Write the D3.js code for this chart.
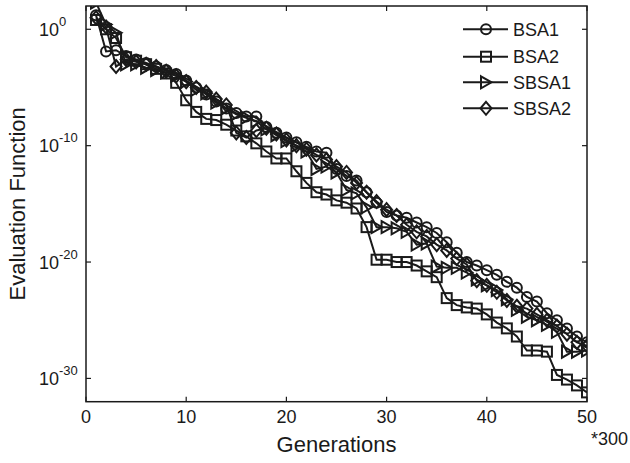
<html>
<head>
<script src="https://d3js.org/d3.v7.min.js"></script>
<style>
  body { margin: 0; background: #fff; }
  text { font-family: "Liberation Sans", Arial, sans-serif; fill: #1a1a1a; }
</style>
</head>
<body>
</body>
<script>
    // generations (x 300)
    let generations = d3.range(1, 51);
    // log10 of the evaluation function
    let bsa1 = [1.2, -1.9, -1.8, -2.3, -2.6, -2.9, -3.2, -3.5, -3.85, -4.4,
                -5.0, -5.6, -6.2, -6.8, -7.2, -7.5, -7.5, -8.4, -8.9, -9.3,
                -9.7, -10.1, -10.5, -10.6, -12.0, -12.6, -13.0, -14.0, -14.9, -15.7,
                -16.0, -16.2, -16.6, -17.0, -17.5, -18.3, -19.2, -20.0, -20.3, -20.7,
                -21.1, -21.7, -22.2, -23.0, -23.4, -24.4, -25.0, -25.7, -26.4, -26.9];
    let bsa2 = [0.8, 0.0, -0.75, -2.4, -2.7, -3.0, -3.4, -3.8, -4.6, -6.1,
                -7.1, -7.7, -7.8, -8.2, -8.7, -9.2, -9.8, -10.5, -11.1, -11.1,
                -12.2, -13.2, -14.0, -14.2, -14.7, -14.9, -15.4, -17.0, -19.8, -19.8,
                -20.0, -20.0, -20.3, -20.8, -21.3, -23.1, -23.7, -23.9, -24.0, -24.5,
                -25.2, -25.7, -26.4, -27.6, -27.6, -27.7, -29.7, -30.1, -30.6, -31.2];
    let sbsa1 = [2.3, 0.4, -0.3, -3.0, -3.0, -3.3, -3.5, -3.7, -4.0, -4.5,
                 -5.2, -5.5, -6.3, -6.8, -7.3, -7.6, -7.9, -8.6, -9.1, -9.6,
                 -10.0, -10.5, -12.0, -11.8, -12.3, -13.8, -14.1, -15.3, -17.0, -17.0,
                 -17.1, -17.4, -18.5, -18.4, -20.4, -20.5, -20.5, -20.9, -21.5, -22.0,
                 -22.4, -23.2, -24.1, -24.7, -25.0, -25.4, -26.0, -27.7, -27.7, -27.6];
    let sbsa2 = [1.0, 0.2, -3.2, -2.6, -2.8, -3.0, -3.2, -3.6, -4.0, -4.5,
                 -5.0, -5.4, -6.0, -6.5, -8.9, -9.3, -8.7, -8.5, -9.0, -9.5,
                 -10.0, -10.3, -10.8, -11.2, -11.8, -12.3, -13.2, -14.0, -14.8, -15.5,
                 -16.0, -16.8, -17.4, -17.8, -18.5, -19.0, -19.7, -20.2, -21.6, -22.0,
                 -22.6, -23.3, -23.8, -24.0, -24.5, -25.0, -25.5, -26.2, -26.9, -27.2];
    let seriesNames = ["BSA1", "BSA2", "SBSA1", "SBSA2"];
    let xTicks = [0, 10, 20, 30, 40, 50];
    let yTickExps = [0, -10, -20, -30];

    let series = [bsa1, bsa2, sbsa1, sbsa2];
    let markers = ["circle", "square", "triangle", "diamond"];

    let width = 630, height = 463;
    let pLeft = 86, pRight = 587, pTop = 6, pBottom = 401.7;
    let ink = "#1a1a1a";

    let svg = d3.select("body").append("svg")
        .attr("width", width)
        .attr("height", height);

    let x = d3.scaleLinear().domain([0, 50]).range([pLeft, pRight]);
    let y = d3.scaleLog().domain([1e-32, 1e2]).range([pBottom, pTop]);

    svg.append("clipPath").attr("id", "plotclip")
        .append("rect")
        .attr("x", pLeft).attr("y", pTop)
        .attr("width", pRight - pLeft).attr("height", pBottom - pTop);

    // axes box and inward ticks
    svg.append("rect")
        .attr("x", pLeft).attr("y", pTop)
        .attr("width", pRight - pLeft).attr("height", pBottom - pTop)
        .attr("fill", "none").attr("stroke", ink).attr("stroke-width", 1.5);

    let tickLen = 5;
    xTicks.forEach(t => {
        svg.append("line").attr("x1", x(t)).attr("x2", x(t))
            .attr("y1", pBottom).attr("y2", pBottom - tickLen)
            .attr("stroke", ink).attr("stroke-width", 1.2);
        svg.append("line").attr("x1", x(t)).attr("x2", x(t))
            .attr("y1", pTop).attr("y2", pTop + tickLen)
            .attr("stroke", ink).attr("stroke-width", 1.2);
        svg.append("text")
            .attr("x", x(t)).attr("y", 423)
            .attr("text-anchor", "middle")
            .attr("font-size", 18)
            .text(t);
    });

    yTickExps.forEach(e => {
        let yy = y(Math.pow(10, e));
        svg.append("line").attr("x1", pLeft).attr("x2", pLeft + tickLen)
            .attr("y1", yy).attr("y2", yy)
            .attr("stroke", ink).attr("stroke-width", 1.2);
        svg.append("line").attr("x1", pRight).attr("x2", pRight - tickLen)
            .attr("y1", yy).attr("y2", yy)
            .attr("stroke", ink).attr("stroke-width", 1.2);
        let lab = svg.append("text")
            .attr("x", 39).attr("y", yy + 6.5)
            .attr("font-size", 18);
        lab.append("tspan").text("10");
        lab.append("tspan").attr("dy", -10).attr("font-size", 13).text(e);
    });

    // axis titles
    svg.append("text")
        .attr("x", (pLeft + pRight) / 2).attr("y", 452)
        .attr("text-anchor", "middle")
        .attr("font-size", 22)
        .text("Generations");
    svg.append("text")
        .attr("x", 628).attr("y", 445)
        .attr("text-anchor", "end")
        .attr("font-size", 18)
        .text("*300");
    svg.append("text")
        .attr("transform", "translate(25," + ((pTop + pBottom) / 2) + ") rotate(-90)")
        .attr("text-anchor", "middle")
        .attr("font-size", 22)
        .text("Evaluation Function");

    function drawMarker(g, kind, cx, cy) {
        if (kind == "circle") {
            g.append("circle").attr("cx", cx).attr("cy", cy).attr("r", 5);
        } else if (kind == "square") {
            g.append("rect").attr("x", cx - 5).attr("y", cy - 5)
                .attr("width", 10).attr("height", 10);
        } else if (kind == "triangle") {
            g.append("path").attr("d", "M" + (cx - 5) + "," + (cy - 6) +
                "L" + (cx + 5.5) + "," + cy + "L" + (cx - 5) + "," + (cy + 6) + "Z");
        } else {
            g.append("path").attr("d", "M" + cx + "," + (cy - 6.5) +
                "L" + (cx + 5.5) + "," + cy + "L" + cx + "," + (cy + 6.5) +
                "L" + (cx - 5.5) + "," + cy + "Z");
        }
    }

    let line = d3.line()
        .x(d => x(d.gen))
        .y(d => y(d.val));

    let plot = svg.append("g").attr("clip-path", "url(#plotclip)");

    for (var i = 0; i < series.length; i++) {
        let pts = generations.map((g, j) => ({gen: g, val: Math.pow(10, series[i][j])}));
        plot.append("path")
            .datum(pts)
            .attr("d", line)
            .attr("fill", "none")
            .attr("stroke", ink)
            .attr("stroke-width", 2);
        let mg = plot.append("g")
            .attr("fill", "none")
            .attr("stroke", ink)
            .attr("stroke-width", 2);
        pts.forEach(p => drawMarker(mg, markers[i], x(p.gen), y(p.val)));
    }

    // legend
    let legendY = [29.3, 56.7, 82.3, 108.3];
    for (var i = 0; i < seriesNames.length; i++) {
        let ly = legendY[i];
        svg.append("line")
            .attr("x1", 463).attr("x2", 508)
            .attr("y1", ly).attr("y2", ly)
            .attr("stroke", ink).attr("stroke-width", 2);
        let mg = svg.append("g")
            .attr("fill", "none")
            .attr("stroke", ink)
            .attr("stroke-width", 2);
        drawMarker(mg, markers[i], 486, ly);
        svg.append("text")
            .attr("x", 513).attr("y", ly + 6.5)
            .attr("font-size", 18)
            .text(seriesNames[i]);
    }
</script>
</html>
